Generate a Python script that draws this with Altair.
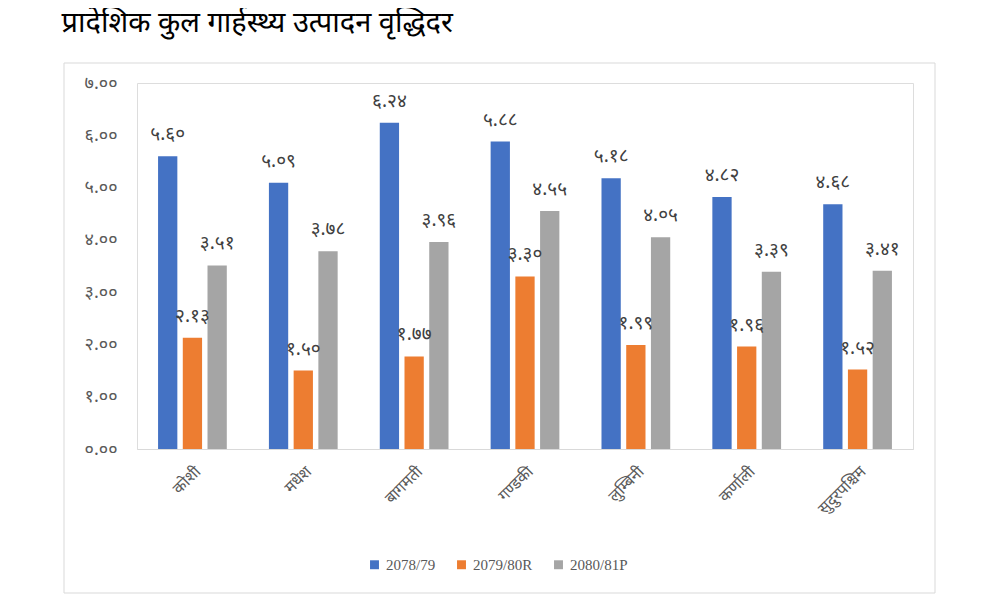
import altair as alt
import pandas as pd

title_text = "प्रादेशिक कुल गार्हस्थ्य उत्पादन वृद्धिदर"
provinces = ["कोशी", "मधेश", "बागमती", "गण्डकी", "लुम्बिनी", "कर्णाली", "सुदुरपश्चिम"]
series = ["2078/79", "2079/80R", "2080/81P"]
v_7879 = [5.60, 5.09, 6.24, 5.88, 5.18, 4.82, 4.68]
v_7980 = [2.13, 1.50, 1.77, 3.30, 1.99, 1.96, 1.52]
v_8081 = [3.51, 3.78, 3.96, 4.55, 4.05, 3.39, 3.41]
y_ticks = [0, 1, 2, 3, 4, 5, 6, 7]
y_tick_labels = ["०.००", "१.००", "२.००", "३.००", "४.००", "५.००", "६.००", "७.००"]
colors = ["#4472C4", "#ED7D31", "#A5A5A5"]

DEV = str.maketrans("0123456789", "०१२३४५६७८९")

rows = []
for s, vals in zip(series, [v_7879, v_7980, v_8081]):
    for p, v in zip(provinces, vals):
        rows.append({"province": p, "series": s, "value": v,
                     "label": f"{v:.2f}".translate(DEV)})
df = pd.DataFrame(rows)

FONT = "Noto Sans Devanagari, Nirmala UI, Mangal, Noto Sans, sans-serif"
label_expr = "[" + ",".join(f"'{t}'" for t in y_tick_labels) + "][datum.value]"

x_enc = alt.X("province:N", sort=provinces,
              scale=alt.Scale(paddingInner=0.38, paddingOuter=0.19),
              axis=alt.Axis(title=None, labelAngle=-45, labelAlign="right",
                            labelBaseline="top", labelFontSize=16,
                            labelFont=FONT, labelColor="#595959",
                            labelPadding=14, ticks=False, domainColor="#d9d9d9"))
xo_enc = alt.XOffset("series:N", sort=series,
                     scale=alt.Scale(paddingInner=0.22, paddingOuter=0))
y_enc = alt.Y("value:Q", scale=alt.Scale(domain=[0, 7], nice=False),
              axis=alt.Axis(title=None, values=y_ticks, labelExpr=label_expr,
                            grid=False, domain=False, ticks=False,
                            labelPadding=20, labelFontSize=18, labelFont=FONT,
                            labelColor="#595959"))

base = alt.Chart(df)
bars = base.mark_bar().encode(
    x=x_enc, xOffset=xo_enc, y=y_enc,
    color=alt.Color("series:N", sort=series,
                    scale=alt.Scale(domain=series, range=colors),
                    legend=alt.Legend(title=None, orient="none", direction="horizontal",
                                      legendX=230, legendY=474, symbolType="square",
                                      symbolSize=80, labelFontSize=15,
                                      labelFont="Liberation Serif",
                                      labelColor="#595959", columnPadding=18,
                                      symbolStrokeWidth=0)),
)
texts = base.mark_text(baseline="bottom", dy=-12, fontSize=19, font=FONT,
                       color="#404040").encode(
    x=alt.X("province:N", sort=provinces), xOffset=alt.XOffset("series:N", sort=series),
    y="value:Q", text="label:N")

border = alt.Chart(pd.DataFrame({"a": [0]})).mark_rect(
    fill=None, stroke="#d9d9d9", strokeWidth=1).encode(
    x=alt.value(-73), x2=alt.value(798), y=alt.value(-20), y2=alt.value(510))

chart = alt.layer(border, bars, texts).properties(
    width=776, height=366,
    padding={"left": 129, "top": 75, "right": 63, "bottom": 150},
    autosize=alt.AutoSizeParams(type="none"),
    title=alt.TitleParams(title_text, anchor="start", fontSize=29, font=FONT,
                          fontWeight="normal", color="#000000", dx=-2, offset=25),
).configure_view(stroke=None).configure(background="white")

chart.save("out.html", embed_options={"renderer": "svg", "actions": False})
